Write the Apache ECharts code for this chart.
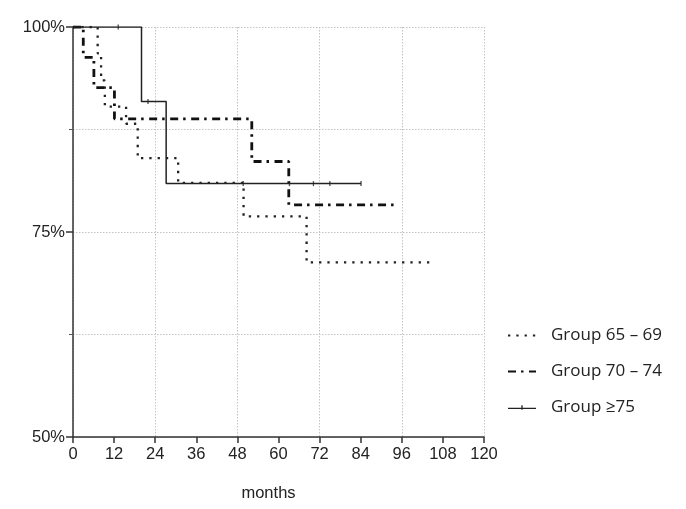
<!DOCTYPE html>
<html>
<head>
<meta charset="utf-8">
<script src="https://cdn.jsdelivr.net/npm/echarts@6/dist/echarts.min.js"></script>
<style>
html,body{margin:0;padding:0;background:#fff;}
#chart{width:686px;height:509px;}
</style>
</head>
<body>
<div id="chart"></div>
<script>
// ---- data (months, survival %) ----
const xTicks = [0, 12, 24, 36, 48, 60, 72, 84, 96, 108, 120];
const yLabels = [50, 75, 100];

const g1Name = 'Group 65 \u2013 69';
const g1Time = [0, 7.2, 8.2, 9.3, 15.5, 18.9, 30.7, 49.8, 68.2, 104.8];
const g1Surv = [100, 96.8, 93.5, 90.3, 88.2, 84.0, 81.0, 76.9, 71.3, 71.3];

const g2Name = 'Group 70 \u2013 74';
const g2Time = [0, 3.0, 6.1, 12.1, 52.2, 63.0, 94.9];
const g2Surv = [100, 96.3, 92.6, 88.8, 83.6, 78.3, 78.3];

const g3Name = 'Group \u226575';
const g3Time = [0, 20.0, 27.2, 84.1];
const g3Surv = [100, 90.9, 80.9, 80.9];
const g3Censor = [13.2, 21.9, 49.7, 63.2, 70.2, 75.0, 84.1];

function pairs(t, s) { return t.map((v, i) => [v, s[i]]); }
function levelAt(t, times, surv) {
  let v = surv[0];
  for (let i = 0; i < times.length; i++) if (times[i] <= t) v = surv[i];
  return v;
}

const axisFont = {fontFamily: 'Liberation Sans', fontSize: 16.5, color: '#222'};
const gridLine = {show: true, lineStyle: {color: '#c4c4c4', type: [1.5, 1.5], width: 1}};

const chart = echarts.init(document.getElementById('chart'), null, {renderer: 'canvas'});
chart.setOption({
  animation: false,
  backgroundColor: '#fff',
  grid: {left: 73, right: 202, top: 27, bottom: 72, containLabel: false},
  xAxis: [{
    type: 'value', min: 0, max: 120, interval: 12,
    name: 'months', nameLocation: 'middle', nameGap: 48,
    nameTextStyle: Object.assign({}, axisFont, {padding: [0, 20, 0, 0]}),
    axisLine: {show: true, onZero: false, lineStyle: {color: '#333', width: 1.5}},
    axisTick: {show: true, inside: false, length: 6, lineStyle: {color: '#333', width: 1.5}},
    axisLabel: Object.assign({}, axisFont, {margin: 9}),
    splitLine: {show: false}
  }, {
    type: 'value', min: 0, max: 120, interval: 24, position: 'bottom',
    axisLine: {show: false}, axisTick: {show: false}, axisLabel: {show: false},
    splitLine: gridLine
  }],
  yAxis: {
    type: 'value', min: 50, max: 100, interval: 25,
    axisLine: {show: true, onZero: false, lineStyle: {color: '#333', width: 1.5}},
    axisTick: {show: true, length: 7, lineStyle: {color: '#333', width: 1.5}},
    minorTick: {show: true, splitNumber: 2, length: 4, lineStyle: {color: '#555', width: 1}},
    minorSplitLine: gridLine,
    splitLine: gridLine,
    axisLabel: Object.assign({}, axisFont, {margin: 8,
      formatter: v => yLabels.indexOf(v) >= 0 ? v + '%' : ''})
  },
  legend: {
    orient: 'vertical', left: 507, top: 325, padding: 0,
    itemWidth: 28, itemHeight: 14, itemGap: 15,
    textStyle: {fontFamily: '"Open Sans"', fontSize: 17, color: '#222',
      lineHeight: 21, padding: [0, 0, 0, 10]},
    data: [
      {name: g1Name, itemStyle: {opacity: 0}},
      {name: g2Name, itemStyle: {opacity: 0}},
      {name: g3Name, icon: 'path://M0,6.3h30v1.4h-30zM14.3,3.5h1.4v5h-1.4z'}
    ]
  },
  series: [
    {
      name: g1Name, type: 'line', step: 'end', symbol: 'none',
      data: pairs(g1Time, g1Surv), z: 3,
      color: '#222',
      lineStyle: {color: '#222', width: 2.3, type: [2.3, 6], cap: 'butt'}
    },
    {
      name: g2Name, type: 'line', step: 'end', symbol: 'none',
      data: pairs(g2Time, g2Surv), z: 4,
      color: '#111',
      lineStyle: {color: '#111', width: 2.8, type: [8, 5, 2.5, 5.5], cap: 'butt'}
    },
    {
      name: g3Name, type: 'line', step: 'end', symbol: 'none',
      data: pairs(g3Time, g3Surv), z: 5,
      color: '#222',
      itemStyle: {color: '#222'},
      lineStyle: {color: '#222', width: 1.5, type: 'solid'}
    },
    {
      name: g3Name, type: 'scatter', symbol: 'rect', symbolSize: [1.3, 5],
      data: g3Censor.map(t => [t, levelAt(t, g3Time, g3Surv)]), z: 6,
      itemStyle: {color: '#222'}, silent: true
    }
  ]
});
</script>
</body>
</html>
